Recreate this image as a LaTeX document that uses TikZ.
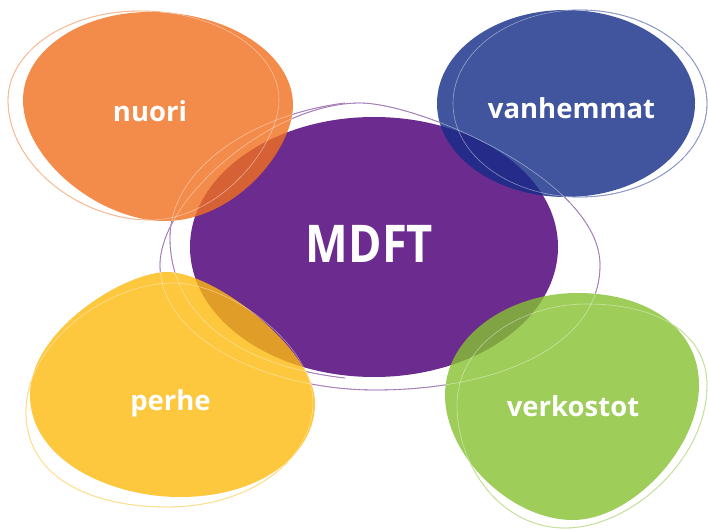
\documentclass[tikz,border=0pt]{standalone}
\usepackage{fontspec}
\newfontfamily\labfont{Open Sans}
\definecolor{purpleF}{RGB}{108,44,143}
\definecolor{orangeF}{RGB}{241,111,31}
\definecolor{blueF}{RGB}{18,43,136}
\definecolor{yellowF}{RGB}{253,186,14}
\definecolor{greenF}{RGB}{134,193,49}
\definecolor{orangeL}{RGB}{244,140,76}
\definecolor{blueL}{RGB}{65,85,160}
\definecolor{yellowL}{RGB}{253,200,62}
\definecolor{greenL}{RGB}{158,205,90}
\tikzset{
  blobfill/.style={fill opacity=0.8},
  ring/.style={line width=0.8pt},
  whitering/.style={draw=white, draw opacity=0.45, line width=0.6pt},
  lab/.style={text=white, anchor=base, inner sep=0pt, font=\labfont\bfseries\fontsize{27.5}{30}\selectfont}
}
\begin{document}
\begin{tikzpicture}[x=1pt,y=-1pt]
\useasboundingbox (0,0) rectangle (708,529);
% shapes
\def\purpA{(160,265) .. controls (160,200) and (270,103) .. (360,103) .. controls (420,103) and (600,180) .. (600,265) .. controls (600,345) and (500,390) .. (375,390) .. controls (270,390) and (160,340) .. cycle}
\def\purpB{(345,378) .. controls (230,365) and (170,310) .. (170,238) .. controls (170,170) and (250,115) .. (345,103)}
\def\orangeO{(8,100) .. controls (8,51) and (67,11) .. (140,11) .. controls (217,11) and (279,51) .. (279,100) .. controls (279,145) and (220,220) .. (150,220) .. controls (80,220) and (8,165) .. cycle}
\def\orangeP{(23,100) .. controls (23,51) and (80,12) .. (150,12) .. controls (229,12) and (293,54) .. (293,105) .. controls (293,150) and (235,221) .. (165,221) .. controls (100,221) and (23,160) .. cycle}
\def\blueO{(580,103.5) ellipse[x radius=127, y radius=93.5]}
\def\blueP{(566,103.5) ellipse[x radius=129, y radius=93.5]}
\def\yellowO{(173,283) .. controls (110,283) and (26,340) .. (26,412) .. controls (26,480) and (95,507) .. (167,507) .. controls (250,507) and (313,460) .. (313,402) .. controls (313,345) and (230,283) .. cycle}
\def\yellowP{(167,272) .. controls (125,272) and (30,330) .. (30,395) .. controls (30,460) and (110,497) .. (180,497) .. controls (260,497) and (315,455) .. (315,403) .. controls (315,350) and (215,272) .. cycle}
\def\greenO{(587,304) .. controls (660,304) and (707,335) .. (707,385) .. controls (707,460) and (630,528) .. (565,528) .. controls (500,528) and (457,465) .. (457,405) .. controls (457,345) and (520,304) .. cycle}
\def\greenP{(577,293) .. controls (650,293) and (699,330) .. (699,385) .. controls (699,450) and (630,520) .. (573,520) .. controls (510,520) and (445,455) .. (445,395) .. controls (445,335) and (510,293) .. cycle}
% coloured outlines
\draw[ring, draw=purpleF] \purpA;
\draw[ring, draw=purpleF] \purpB;
\draw[ring, draw=orangeL] \orangeO;
\draw[ring, draw=blueL] \blueO;
\draw[ring, draw=yellowL] \yellowO;
\draw[ring, draw=greenL] \greenO;
% white grounds hide the outlines inside the blobs
\fill[white] \orangeP;
\fill[white] \blueP;
\fill[white] \yellowP;
\fill[white] \greenP;
% fills
\fill[purpleF] (374,247) ellipse[x radius=184, y radius=130];
\fill[orangeF, blobfill] \orangeP;
\fill[blueF, blobfill] \blueP;
\fill[yellowF, blobfill] \yellowP;
\fill[greenF, blobfill] \greenP;
% faint light traces over the fills
\draw[whitering] \purpA;
\draw[whitering] \purpB;
\draw[whitering] \orangeO;
\draw[whitering] \blueO;
\draw[whitering] \yellowO;
\draw[whitering] \greenO;
% labels
\node[lab] (nuori) at (150,122) {nuori};
\node[lab] (vanhemmat) at (571.5,119) {vanhemmat};
\node[lab] (perhe) at (170.5,410) {perhe};
\node[lab] (verkostot) at (573,416) {verkostot};
\node[lab, font=\labfont\bfseries\fontsize{52}{56}\selectfont] (mdft) at (369.5,262) {\scalebox{0.87}[1]{MDFT}};
\end{tikzpicture}
\end{document}
